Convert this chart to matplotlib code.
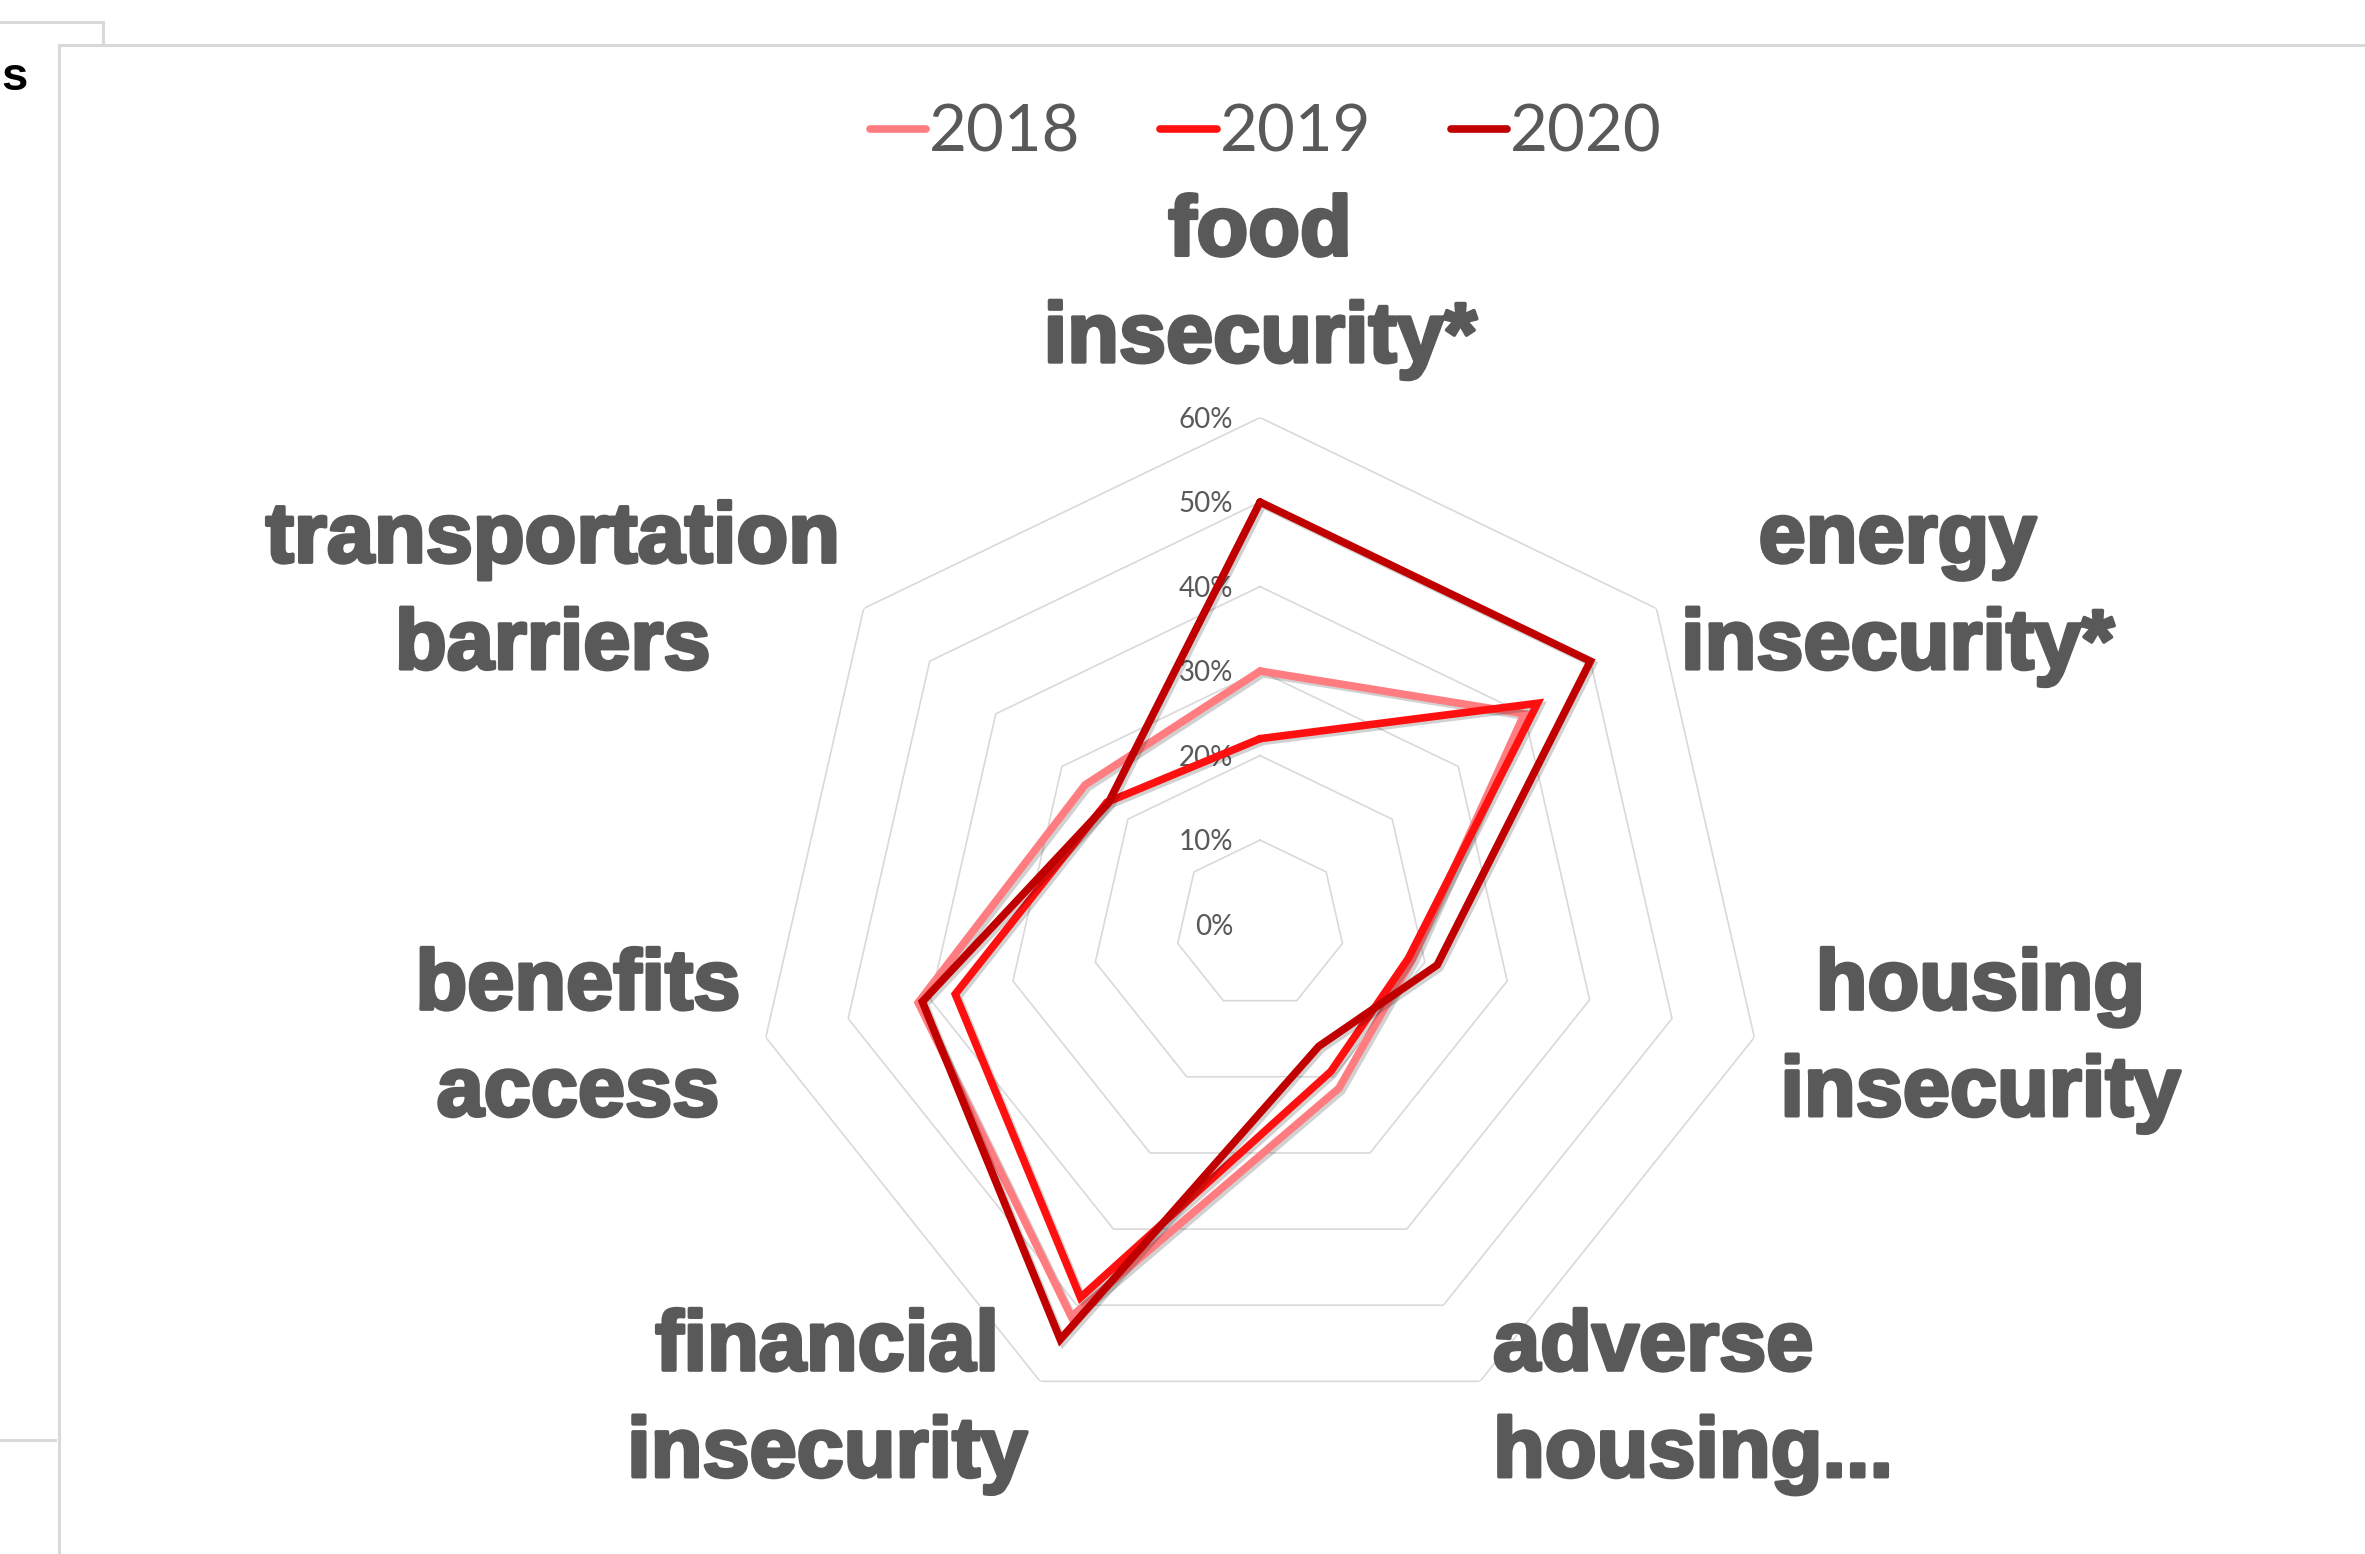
import numpy as np
import matplotlib.pyplot as plt
from matplotlib import patheffects as pe
from matplotlib.lines import Line2D

# -----------------------------
# Data (share of respondents, %)
# -----------------------------
categories = ["food\ninsecurity*", "energy\ninsecurity*", "housing\ninsecurity",
              "adverse\nhousing...", "financial\ninsecurity", "benefits\naccess",
              "transportation\nbarriers"]
years = ["2018", "2019", "2020"]
vals_2018 = [30, 40, 18.5, 21.5, 51.5, 41.5, 26.5]
vals_2019 = [22, 42, 18, 19.3, 49, 37, 23.2]
vals_2020 = [50, 50, 21.5, 16, 54.5, 41, 23]
ring_ticks = [0, 10, 20, 30, 40, 50, 60]

colors = ["#FF7C80", "#FF1010", "#C00000"]
grey_text = "#595959"
grid_col = "#D9D9D9"

# -----------------------------
# Figure
# -----------------------------
W, H = 2365, 1554
fig = plt.figure(figsize=(W / 100, H / 100), dpi=100)

ax = fig.add_axes([0.3184, 0.0788, 0.4288, 0.6525], projection="polar")
ax.set_theta_offset(np.pi / 2)
ax.set_theta_direction(-1)
ax.set_ylim(0, 60)
ax.grid(False)
ax.set_xticks([])
ax.set_yticks([])
ax.spines["polar"].set_visible(False)
ax.patch.set_visible(False)

n = len(categories)
theta = np.arange(n) * 2 * np.pi / n
theta_closed = np.append(theta, theta[0])

# heptagon gridlines
for r in ring_ticks[1:]:
    ax.plot(theta_closed, [r] * (n + 1), color=grid_col, lw=1.2, zorder=1)

# ring labels
for r in ring_ticks:
    ax.annotate(f"{r}%", xy=(0, r), xytext=(-27, -2), textcoords="offset pixels",
                ha="right", va="center", fontsize=20, color=grey_text,
                family="Lato", zorder=2)

# series
shadow = [pe.SimpleLineShadow(offset=(2, -2), shadow_color="#000000", alpha=0.18),
          pe.Normal()]
for vals, yr, c in zip([vals_2018, vals_2019, vals_2020], years, colors):
    ax.plot(theta_closed, vals + [vals[0]], color=c, lw=5.5, label=yr,
            solid_joinstyle="miter", solid_capstyle="round",
            path_effects=shadow, zorder=3)

# category labels
label_offsets = [(0, 131), (241, 15), (226, -3), (13, -20),
                 (-213, -20), (-188, -3), (-311, 15)]
for t, cat, off in zip(theta, categories, label_offsets):
    ha = "left" if cat.startswith("adverse") else "center"
    ax.annotate(cat, xy=(t, 60), xytext=off, textcoords="offset pixels",
                ha=ha, va="center", multialignment=ha, fontsize=61,
                fontweight="bold", family="Liberation Sans", color=grey_text,
                linespacing=1.43, annotation_clip=False,
                path_effects=[pe.withStroke(linewidth=2.6, foreground=grey_text)])

# legend
handles = [Line2D([0], [0], color=c, lw=5.5, solid_capstyle="round") for c in colors]
leg = fig.legend(handles, years, loc="center", bbox_to_anchor=(1266 / W, 1 - 133 / H),
                 ncol=3, frameon=False, handlelength=0.86,
                 handletextpad=0.05, columnspacing=1.22,
                 prop={"family": "Lato", "size": 47})
for txt in leg.get_texts():
    txt.set_color(grey_text)

# letter of the neighbouring slide text at the left edge
fig.text(0.0005, 1 - 78 / H, "s", fontsize=34, fontweight="bold", color="black",
         family="Liberation Sans", ha="left", va="center")

# chart-area borders from the screenshot
def hline(x0, x1, y, **kw):
    fig.add_artist(Line2D([x0 / W, x1 / W], [1 - y / H, 1 - y / H], color=grid_col,
                          lw=2.2, transform=fig.transFigure, **kw))

def vline(x, y0, y1, **kw):
    fig.add_artist(Line2D([x / W, x / W], [1 - y0 / H, 1 - y1 / H], color=grid_col,
                          lw=2.2, transform=fig.transFigure, **kw))

hline(59, W, 45)
vline(59, 45, H)
hline(0, 103, 22)
vline(103, 22, 45)
hline(0, 55, 1440)

fig.savefig("out.png", dpi=100, facecolor="white")
